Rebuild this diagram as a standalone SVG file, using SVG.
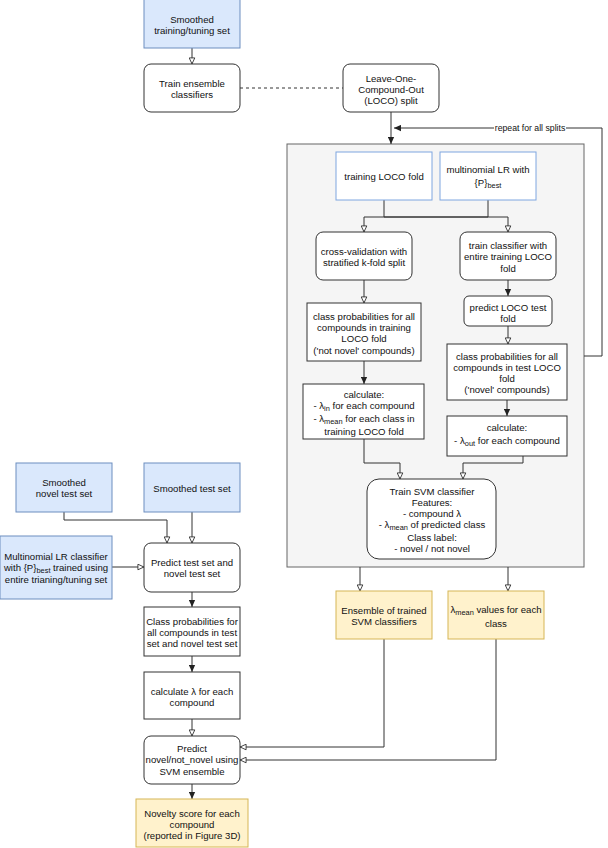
<svg xmlns="http://www.w3.org/2000/svg" width="608" height="848" viewBox="0 0 608 848">
<style>
text{font-family:"Liberation Sans",Arial,Helvetica,sans-serif;font-size:9.6px;fill:#111;text-anchor:middle}
.lbl{font-size:8.7px}
.blue{fill:#dae8fc;stroke:#6c8ebf;stroke-width:1}
.bluew{fill:#fff;stroke:#7ea6e0;stroke-width:1}
.yel{fill:#fff2cc;stroke:#d6b656;stroke-width:1}
.box{fill:#fff;stroke:#333;stroke-width:1}
.grp{fill:#f5f5f5;stroke:#666;stroke-width:1}
.e{fill:none;stroke:#333;stroke-width:1}
.ef{marker-end:url(#af)}
.eo{marker-end:url(#ao)}
.sub{font-size:7.4px}
</style>
<defs>
<marker id="af" viewBox="0 0 10 10" refX="10" refY="5" markerWidth="7" markerHeight="7" markerUnits="userSpaceOnUse" orient="auto"><path d="M0,0.5 L10,5 L0,9.5 Z" fill="#222"/></marker>
<marker id="ao" viewBox="0 0 10 10" refX="9.5" refY="5" markerWidth="7" markerHeight="7" markerUnits="userSpaceOnUse" orient="auto"><path d="M0.8,1 L9.3,5 L0.8,9 Z" fill="#fff" stroke="#333" stroke-width="1.3"/></marker>
</defs>
<rect width="608" height="848" fill="#fff"/>

<g id="loco-container"><rect class="grp" x="287" y="144" width="297" height="423"/></g>

<g id="connectors">
<path class="e eo" d="M192,48 V64"/>
<path class="e" d="M240,88 H343" stroke-dasharray="3,3"/>
<path class="e ef" d="M391,112 V144"/>
<path class="e ef" d="M584,356 H602 V128 H394"/>
<rect x="494" y="122" width="72" height="11" fill="#fff"/>
<text class="lbl" x="530" y="131">repeat for all splits</text>
<path class="e eo" d="M384,200 V217 H508 V232"/>
<path class="e eo" d="M488,200 V217 H364 V232"/>
<path class="e eo" d="M364,280 V303"/>
<path class="e ef" d="M508,280 V296"/>
<path class="e eo" d="M508,326 V344"/>
<path class="e ef" d="M364,361 V384"/>
<path class="e ef" d="M507,400 V416"/>
<path class="e eo" d="M364,439 V463 H400 V479"/>
<path class="e eo" d="M523,456 V463 H463 V479"/>
<path class="e eo" d="M360,567 V591"/>
<path class="e eo" d="M508,567 V591"/>
<path class="e eo" d="M64,512 V520 H167 V543"/>
<path class="e eo" d="M192,512 V543"/>
<path class="e eo" d="M112,567 H144"/>
<path class="e ef" d="M192,592 V607"/>
<path class="e ef" d="M192,656 V672"/>
<path class="e eo" d="M192,719 V736"/>
<path class="e eo" d="M384,639 V747 H240"/>
<path class="e eo" d="M496,639 V760 H240"/>
<path class="e ef" d="M192,784 V799"/>
</g>

<g id="smoothed-training"><rect class="blue" x="144" y="-1" width="96" height="49"/>
<text x="192" y="22.5">Smoothed</text><text x="192" y="33.5">training/tuning set</text></g>

<g id="train-ensemble"><rect class="box" x="144" y="64" width="96" height="48" rx="7"/>
<text x="192" y="86.5">Train ensemble</text><text x="192" y="97.5">classifiers</text></g>

<g id="loco-split"><rect class="box" x="343" y="64" width="96" height="48" rx="7"/>
<text x="391" y="81.5">Leave-One-</text><text x="391" y="92.5">Compound-Out</text><text x="391" y="103.5">(LOCO) split</text></g>

<g id="training-loco-fold"><rect class="bluew" x="336" y="152" width="96" height="48"/>
<text x="384" y="179.5">training LOCO fold</text></g>

<g id="multinomial-lr"><rect class="bluew" x="440" y="152" width="96" height="48"/>
<text x="488" y="172.5">multinomial LR with</text>
<text x="488" y="185.5">{P}<tspan class="sub" dy="2.5">best</tspan></text></g>

<g id="cross-validation"><rect class="box" x="316" y="232" width="96" height="48" rx="7"/>
<text x="364" y="254.5">cross-validation with</text><text x="364" y="265.5">stratified k-fold split</text></g>

<g id="train-classifier"><rect class="box" x="460" y="232" width="96" height="48" rx="7"/>
<text x="508" y="248.5">train classifier with</text><text x="508" y="260">entire training LOCO</text><text x="508" y="271.5">fold</text></g>

<g id="class-prob-train"><rect class="box" x="307" y="303" width="114" height="58"/>
<text x="364" y="319.5">class probabilities for all</text><text x="364" y="330.5">compounds in training</text><text x="364" y="342">LOCO fold</text><text x="364" y="353.5">('not novel' compounds)</text></g>

<g id="predict-loco-test"><rect class="box" x="464" y="296" width="88" height="30" rx="5"/>
<text x="508" y="310.5">predict LOCO test</text><text x="508" y="321.5">fold</text></g>

<g id="class-prob-test"><rect class="box" x="447" y="344" width="120" height="56"/>
<text x="507" y="359.5">class probabilities for all</text><text x="507" y="370.5">compounds in test LOCO</text><text x="507" y="381.5">fold</text><text x="507" y="392.5">('novel' compounds)</text></g>

<g id="calc-in"><rect class="box" x="303" y="384" width="121" height="55"/>
<text x="364" y="397.5">calculate:</text>
<text x="364" y="408.5">- λ<tspan class="sub" dy="2">in</tspan><tspan dy="-2"> for each compound</tspan></text>
<text x="364" y="421.5">- λ<tspan class="sub" dy="2">mean</tspan><tspan dy="-2"> for each class in</tspan></text>
<text x="364" y="435">training LOCO fold</text></g>

<g id="calc-out"><rect class="box" x="447" y="416" width="120" height="40"/>
<text x="507" y="430.5">calculate:</text>
<text x="507" y="443.5">- λ<tspan class="sub" dy="2">out</tspan><tspan dy="-2"> for each compound</tspan></text></g>

<g id="train-svm"><rect class="box" x="367" y="479" width="129" height="80" rx="12"/>
<text x="432" y="494.5">Train SVM classifier</text><text x="432" y="505.5">Features:</text><text x="432" y="516.5">- compound λ</text>
<text x="432" y="527.5">- λ<tspan class="sub" dy="2">mean</tspan><tspan dy="-2"> of predicted class</tspan></text>
<text x="432" y="540.5">Class label:</text><text x="432" y="552">- novel / not novel</text></g>

<g id="ensemble-svm"><rect class="yel" x="336" y="591" width="96" height="48"/>
<text x="384" y="613.5">Ensemble of trained</text><text x="384" y="625">SVM classifiers</text></g>

<g id="lambda-mean-values"><rect class="yel" x="448" y="591" width="96" height="48"/>
<text x="496" y="612.5">λ<tspan class="sub" dy="2">mean</tspan><tspan dy="-2"> values for each</tspan></text><text x="496" y="626.5">class</text></g>

<g id="smoothed-novel-test"><rect class="blue" x="16" y="463" width="96" height="49"/>
<text x="64" y="486">Smoothed</text><text x="64" y="497">novel test set</text></g>

<g id="smoothed-test"><rect class="blue" x="144" y="463" width="96" height="49"/>
<text x="192" y="491.5">Smoothed test set</text></g>

<g id="mlr-classifier"><rect class="blue" x="0" y="536" width="112" height="63"/>
<text x="56" y="559.5">Multinomial LR classifier</text>
<text x="56" y="571">with {P}<tspan class="sub" dy="2">best</tspan><tspan dy="-2"> trained using</tspan></text>
<text x="56" y="583">entire trianing/tuning set</text></g>

<g id="predict-test"><rect class="box" x="144" y="543" width="96" height="49" rx="7"/>
<text x="192" y="566">Predict test set and</text><text x="192" y="577">novel test set</text></g>

<g id="class-prob-all"><rect class="box" x="144" y="607" width="96" height="49"/>
<text x="192" y="624.5">Class probabilities for</text><text x="192" y="635.5">all compounds in test</text><text x="192" y="646.5">set and novel test set</text></g>

<g id="calc-lambda"><rect class="box" x="144" y="672" width="96" height="47"/>
<text x="192" y="694.5">calculate λ for each</text><text x="192" y="705.5">compound</text></g>

<g id="predict-novel"><rect class="box" x="144" y="736" width="96" height="48" rx="7"/>
<text x="192" y="751.5">Predict</text><text x="192" y="763">novel/not_novel using</text><text x="192" y="774.5">SVM ensemble</text></g>

<g id="novelty-score"><rect class="yel" x="136" y="799" width="112" height="48"/>
<text x="192" y="816.5">Novelty score for each</text><text x="192" y="827.5">compound</text><text x="192" y="838.5">(reported in Figure 3D)</text></g>
</svg>
